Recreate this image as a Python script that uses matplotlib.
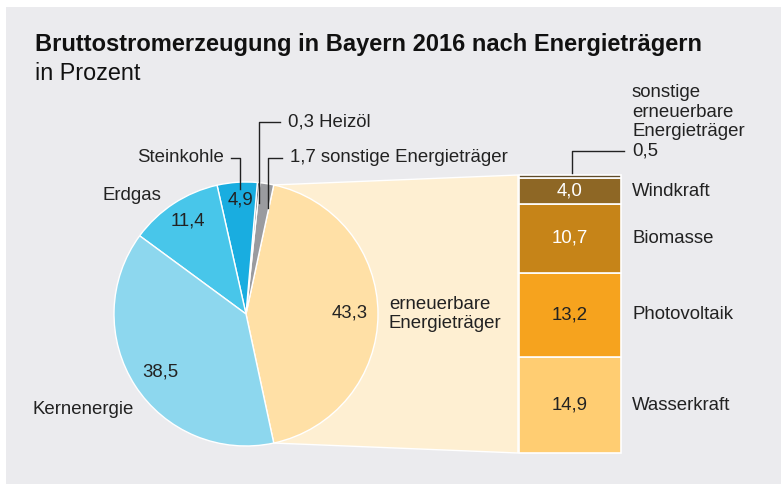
import numpy as np
import matplotlib
matplotlib.use("Agg")
import matplotlib.pyplot as plt
from matplotlib.patches import Rectangle

plt.rcParams['font.family'] = ['Liberation Sans', 'DejaVu Sans']

# Daten: Bruttostromerzeugung in Bayern 2016 (Prozent)
pie_labels = ["erneuerbare Energieträger", "sonstige Energieträger", "Heizöl",
              "Steinkohle", "Erdgas", "Kernenergie"]
pie_values = [43.3, 1.7, 0.3, 4.9, 11.4, 38.5]
pie_colors = ["#FFE0A6", "#9A9B9F", "#6F7075", "#19ADE0", "#48C6EA", "#8DD7EE"]

bar_labels = ["Wasserkraft", "Photovoltaik", "Biomasse", "Windkraft",
              "sonstige erneuerbare Energieträger"]
bar_values = [14.9, 13.2, 10.7, 4.0, 0.5]
bar_colors = ["#FFCD72", "#F6A31E", "#C68418", "#8E6725", "#5E4B2A"]
bar_text_colors = ["#222222", "#222222", "white", "white", None]

def fmt(v):
    return f"{v:.1f}".replace(".", ",")

W, H = 781, 484
fig = plt.figure(figsize=(W / 100, H / 100), dpi=100)
ax = fig.add_axes([0, 0, 1, 1])

# grauer Hintergrund
ax.add_patch(Rectangle((6, 7), W - 6, H - 7, facecolor="#EBEBEE", edgecolor="none", zorder=0))

# Kreisdiagramm (erneuerbare mittig rechts)
cx, cy, r = 246, 314, 132
total = sum(pie_values)
half = pie_values[0] / total * 360 / 2
wedges, _ = ax.pie(pie_values, colors=pie_colors, center=(cx, cy), radius=r,
                   startangle=half, counterclock=False, frame=True,
                   wedgeprops=dict(edgecolor="white", linewidth=1))
for w in wedges:
    w.set_zorder(3)
ax.set_xlim(0, W)
ax.set_ylim(H, 0)
ax.set_aspect("auto")
ax.axis("off")

tc = "#222222"
fs = 13.4

# Balken für erneuerbare Energieträger
bx, bw = 570, 102
btop, bbot = 175, 453
scale = (bbot - btop) / sum(bar_values)
bottom = bbot
for lab, val, col, btc in zip(bar_labels, bar_values, bar_colors, bar_text_colors):
    ax.bar(bx, -val * scale, bottom=bottom, width=bw, color=col,
           edgecolor="white", linewidth=1.2, zorder=3)
    mid = bottom - val * scale / 2
    if btc is not None:
        ax.text(bx, mid, fmt(val), ha="center", va="center", fontsize=fs, color=btc, zorder=5)
        ax.text(632, mid, lab, ha="left", va="center", fontsize=fs, color=tc)
    bottom -= val * scale

# Verbindungsfläche zwischen Kreis und Balken
a = np.deg2rad(half)
px = cx + r * np.cos(a)
ax.fill([px, bx - bw / 2 - 1, bx - bw / 2 - 1, px],
        [cy - r * np.sin(a), btop, bbot, cy + r * np.sin(a)],
        color="#FEEFD2", edgecolor="white", linewidth=1, zorder=1)

# Titel
ax.text(35, 45, "Bruttostromerzeugung in Bayern 2016 nach Energieträgern",
        fontsize=17, fontweight="bold", color="#111111", va="center")
ax.text(35, 73, "in Prozent", fontsize=16.8, color="#111111", va="center")

# Werte im Kreis
ax.text(350, 313, fmt(pie_values[0]), ha="center", va="center", fontsize=fs, color=tc, zorder=5)
ax.text(389, 314, "erneuerbare\nEnergieträger", ha="left", va="center", fontsize=fs,
        color=tc, linespacing=1.12, zorder=5)
ax.text(240, 200, fmt(pie_values[3]), ha="center", va="center", fontsize=fs, color=tc, zorder=5)
ax.text(188, 221, fmt(pie_values[4]), ha="center", va="center", fontsize=fs, color=tc, zorder=5)
ax.text(160, 372, fmt(pie_values[5]), ha="center", va="center", fontsize=fs, color=tc, zorder=5)

# Außenbeschriftungen
ax.text(103, 195, "Erdgas", ha="left", va="center", fontsize=fs, color=tc)
ax.text(33, 410, "Kernenergie", ha="left", va="center", fontsize=fs, color=tc)
ax.text(224, 158, "Steinkohle", ha="right", va="center", fontsize=fs, color=tc)
ax.plot([231, 240, 240], [158, 158, 189], color=tc, lw=1, zorder=6)
ax.text(288, 122, f"{fmt(pie_values[2])} Heizöl", ha="left", va="center", fontsize=fs, color=tc)
ax.plot([280, 259, 259], [122, 122, 203], color=tc, lw=1, zorder=6)
ax.text(290, 158, f"{fmt(pie_values[1])} sonstige Energieträger", ha="left", va="center",
        fontsize=fs, color=tc)
ax.plot([282, 268, 268], [158, 158, 208], color=tc, lw=1, zorder=6)

# sonstige erneuerbare
ax.text(632, 122, "sonstige\nerneuerbare\nEnergieträger\n" + fmt(bar_values[4]),
        ha="left", va="center", fontsize=fs, color=tc, linespacing=1.2)
ax.plot([624, 572, 572], [151, 151, 173], color=tc, lw=1, zorder=6)

fig.savefig("out.png", dpi=100)
